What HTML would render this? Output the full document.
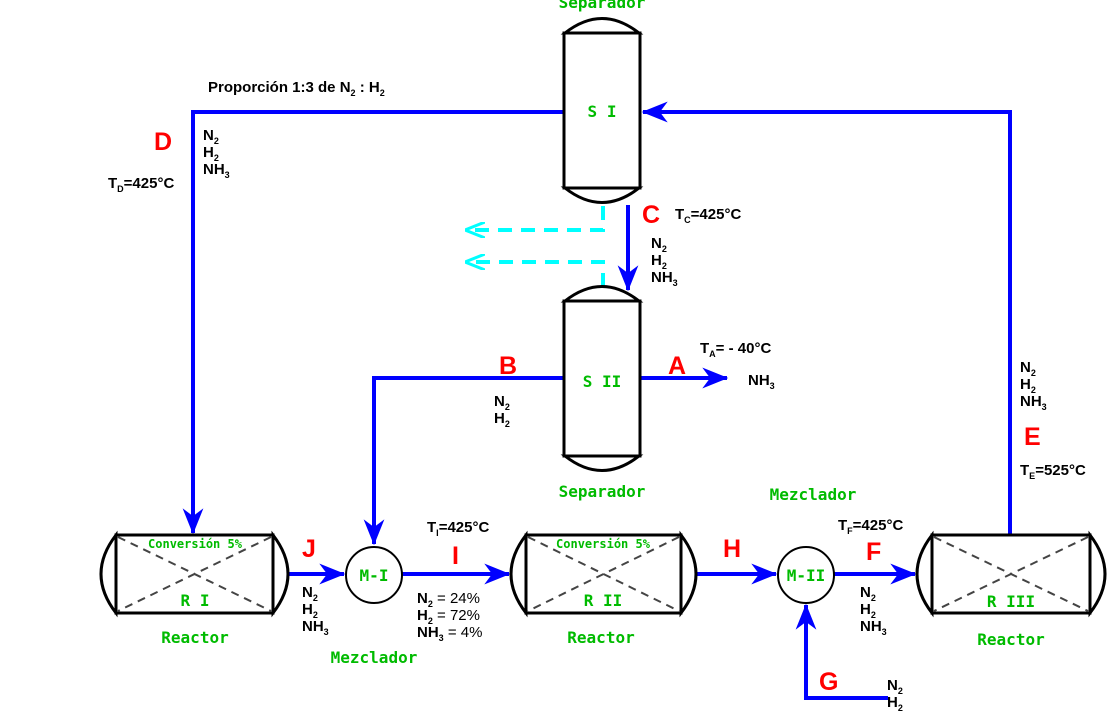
<!DOCTYPE html>
<html><head><meta charset="utf-8"><style>
html,body{margin:0;padding:0;background:#fff}
svg{display:block}
.k{font-family:"Liberation Sans",sans-serif;font-weight:bold;font-size:15px;fill:#000}
.s{font-size:9px}
.r{font-family:"Liberation Sans",sans-serif;font-weight:bold;font-size:25px;fill:#ff0000}
.g{font-family:"DejaVu Sans Mono",monospace;font-size:16px;fill:#00bb00;font-weight:bold}
.gs{font-family:"DejaVu Sans Mono",monospace;font-size:12px;fill:#00bb00;font-weight:bold}
.b{stroke:#0000ff;stroke-width:4;fill:none}
.c{stroke:#00ffff;stroke-width:4;fill:none;stroke-dasharray:14,9}
.v{stroke:#000;stroke-width:3;fill:#fff}
.x{stroke:#444;stroke-width:2;stroke-dasharray:8,6;fill:none}
</style></head><body>
<svg width="1117" height="715" viewBox="0 0 1117 715" xmlns="http://www.w3.org/2000/svg">
<defs>
<marker id="ab" viewBox="0 0 20 16" refX="19" refY="8" markerWidth="6.5" markerHeight="5.2" orient="auto" markerUnits="strokeWidth"><path d="M0,0 L20,8 L0,16 L6,8 Z" fill="#0000ff"/></marker>
<marker id="ac" viewBox="0 0 20 16" refX="19" refY="8" markerWidth="5" markerHeight="4" orient="auto" markerUnits="strokeWidth"><path d="M0,0 L20,8 L0,16" fill="none" stroke="#00ffff" stroke-width="3"/></marker>
</defs>

<path class="b" d="M563,112 H193 V533" marker-end="url(#ab)"/>
<path class="b" d="M1010,535 V112 H643" marker-end="url(#ab)"/>
<path class="b" d="M628,205 V290" marker-end="url(#ab)"/>
<path class="b" d="M563,378 H374 V544" marker-end="url(#ab)"/>
<path class="b" d="M641,378 H727" marker-end="url(#ab)"/>
<path class="b" d="M288,574 H344" marker-end="url(#ab)"/>
<path class="b" d="M402,574 H509" marker-end="url(#ab)"/>
<path class="b" d="M696,574 H776" marker-end="url(#ab)"/>
<path class="b" d="M834,574 H915" marker-end="url(#ab)"/>
<path class="b" d="M888,698 H806 V605" marker-end="url(#ab)"/>
<path class="c" d="M603,206 V230 H466" marker-end="url(#ac)"/>
<path class="c" d="M603,287 V262 H466" marker-end="url(#ac)"/>

<path class="v" d="M565,33 Q602,4 639,33 Z"/>
<path class="v" d="M565,188 Q602,217 639,188 Z"/>
<rect class="v" x="564" y="33" width="76" height="155"/>
<path class="v" d="M565,301 Q602,272 639,301 Z"/>
<path class="v" d="M565,456 Q602,485 639,456 Z"/>
<rect class="v" x="564" y="301" width="76" height="155"/>

<g>
<path class="v" d="M116,535 Q86,574 116,613 Z"/><path class="v" d="M273,535 Q303,574 273,613 Z"/>
<rect class="v" x="116" y="535" width="157" height="78"/>
<path class="x" d="M118,537 L271,611 M271,537 L118,611"/>
</g>
<g>
<path class="v" d="M526,535 Q496,574 526,613 Z"/><path class="v" d="M681,535 Q711,574 681,613 Z"/>
<rect class="v" x="526" y="535" width="155" height="78"/>
<path class="x" d="M528,537 L679,611 M679,537 L528,611"/>
</g>
<g>
<path class="v" d="M932,535 Q902,574 932,613 Z"/><path class="v" d="M1090,535 Q1120,574 1090,613 Z"/>
<rect class="v" x="932" y="535" width="158" height="78"/>
<path class="x" d="M934,537 L1088,611 M1088,537 L934,611"/>
</g>
<circle cx="374" cy="575" r="28" fill="#fff" stroke="#000" stroke-width="2"/>
<circle cx="806" cy="575" r="28" fill="#fff" stroke="#000" stroke-width="2"/>

<text class="g" x="602" y="8" text-anchor="middle">Separador</text>
<text class="g" x="602" y="117" text-anchor="middle">S I</text>
<text class="g" x="602" y="387" text-anchor="middle">S II</text>
<text class="g" x="602" y="497" text-anchor="middle">Separador</text>
<text class="gs" x="195" y="548" text-anchor="middle">Conversión 5%</text>
<text class="g" x="195" y="606" text-anchor="middle">R I</text>
<text class="g" x="195" y="643" text-anchor="middle">Reactor</text>
<text class="gs" x="603" y="548" text-anchor="middle">Conversión 5%</text>
<text class="g" x="603" y="606" text-anchor="middle">R II</text>
<text class="g" x="601" y="643" text-anchor="middle">Reactor</text>
<text class="g" x="1011" y="607" text-anchor="middle">R III</text>
<text class="g" x="1011" y="645" text-anchor="middle">Reactor</text>
<text class="g" x="374" y="581" text-anchor="middle">M-I</text>
<text class="g" x="806" y="581" text-anchor="middle">M-II</text>
<text class="g" x="374" y="663" text-anchor="middle">Mezclador</text>
<text class="g" x="813" y="500" text-anchor="middle">Mezclador</text>

<text class="r" x="154" y="150">D</text>
<text class="r" x="642" y="223">C</text>
<text class="r" x="499" y="374">B</text>
<text class="r" x="668" y="374">A</text>
<text class="r" x="302" y="557">J</text>
<text class="r" x="452" y="564">I</text>
<text class="r" x="723" y="557">H</text>
<text class="r" x="866" y="560">F</text>
<text class="r" x="819" y="690">G</text>
<text class="r" x="1024" y="445">E</text>

<text class="k" x="208" y="92">Proporción 1:3 de N<tspan class="s" dy="4">2</tspan><tspan dy="-4"> : H</tspan><tspan class="s" dy="4">2</tspan></text>
<text class="k" x="108" y="188">T<tspan class="s" dy="4">D</tspan><tspan dy="-4">=425°C</tspan></text>
<text class="k" x="675" y="219">T<tspan class="s" dy="4">C</tspan><tspan dy="-4">=425°C</tspan></text>
<text class="k" x="700" y="353">T<tspan class="s" dy="4">A</tspan><tspan dy="-4">= - 40°C</tspan></text>
<text class="k" x="427" y="532">T<tspan class="s" dy="4">I</tspan><tspan dy="-4">=425°C</tspan></text>
<text class="k" x="838" y="530">T<tspan class="s" dy="4">F</tspan><tspan dy="-4">=425°C</tspan></text>
<text class="k" x="1020" y="475">T<tspan class="s" dy="4">E</tspan><tspan dy="-4">=525°C</tspan></text>
<text class="k" x="748" y="385">NH<tspan class="s" dy="4">3</tspan></text>

<g class="k">
<text x="203" y="140">N<tspan class="s" dy="4">2</tspan></text>
<text x="203" y="157">H<tspan class="s" dy="4">2</tspan></text>
<text x="203" y="174">NH<tspan class="s" dy="4">3</tspan></text>
<text x="651" y="248">N<tspan class="s" dy="4">2</tspan></text>
<text x="651" y="265">H<tspan class="s" dy="4">2</tspan></text>
<text x="651" y="282">NH<tspan class="s" dy="4">3</tspan></text>
<text x="494" y="406">N<tspan class="s" dy="4">2</tspan></text>
<text x="494" y="423">H<tspan class="s" dy="4">2</tspan></text>
<text x="1020" y="372">N<tspan class="s" dy="4">2</tspan></text>
<text x="1020" y="389">H<tspan class="s" dy="4">2</tspan></text>
<text x="1020" y="406">NH<tspan class="s" dy="4">3</tspan></text>
<text x="302" y="597">N<tspan class="s" dy="4">2</tspan></text>
<text x="302" y="614">H<tspan class="s" dy="4">2</tspan></text>
<text x="302" y="631">NH<tspan class="s" dy="4">3</tspan></text>
<text x="860" y="597">N<tspan class="s" dy="4">2</tspan></text>
<text x="860" y="614">H<tspan class="s" dy="4">2</tspan></text>
<text x="860" y="631">NH<tspan class="s" dy="4">3</tspan></text>
<text x="887" y="690">N<tspan class="s" dy="4">2</tspan></text>
<text x="887" y="707">H<tspan class="s" dy="4">2</tspan></text>
<text x="417" y="603">N<tspan class="s" dy="4">2</tspan><tspan dy="-4" font-weight="normal"> = 24%</tspan></text>
<text x="417" y="620">H<tspan class="s" dy="4">2</tspan><tspan dy="-4" font-weight="normal"> = 72%</tspan></text>
<text x="417" y="637">NH<tspan class="s" dy="4">3</tspan><tspan dy="-4" font-weight="normal"> = 4%</tspan></text>
</g>
</svg>
</body></html>
